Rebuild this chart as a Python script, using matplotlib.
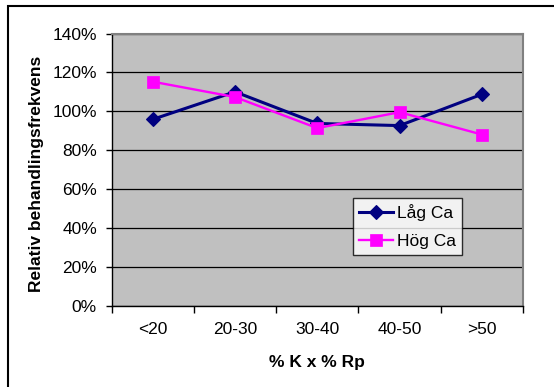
import matplotlib
matplotlib.use("Agg")
import matplotlib.pyplot as plt
from matplotlib.patches import Rectangle
from matplotlib.ticker import FuncFormatter

plt.rcParams['font.family'] = ['Liberation Sans', 'DejaVu Sans']

# Data
categories = ['<20', '20-30', '30-40', '40-50', '>50']
lag_ca = [95.8, 110.0, 93.7, 92.6, 108.7]   # Låg Ca, %
hog_ca = [115.2, 107.3, 91.3, 99.5, 88.0]   # Hög Ca, %
y_ticks = [0, 20, 40, 60, 80, 100, 120, 140]

W, H = 554, 387
fig = plt.figure(figsize=(W / 100, H / 100), dpi=100)

# plot area in pixel coordinates
left, right, top, bottom = 111.5, 523, 33.5, 305.5
ax = fig.add_axes([left / W, 1 - bottom / H, (right - left) / W, (bottom - top) / H])
ax.set_facecolor('#C0C0C0')

x = list(range(len(categories)))
ax.plot(x, lag_ca, color='#000080', lw=2.2, marker='D', ms=7, mew=0.8,
        label='Låg Ca', zorder=3)
ax.plot(x, hog_ca, color='#FF00FF', lw=1.7, marker='s', ms=8.5, mew=0.5,
        label='Hög Ca', zorder=3)

ax.set_xlim(-0.5, len(categories) - 0.5)
ax.set_ylim(0, 140)
ax.set_yticks(y_ticks)
ax.yaxis.set_major_formatter(FuncFormatter(lambda v, p: f'{v:.0f}%'))
ax.grid(axis='y', color='black', lw=0.9)
ax.set_axisbelow(True)

# ticks between categories, labels at category centres
ax.set_xticks([i - 0.5 for i in range(len(categories) + 1)])
ax.set_xticklabels([])
ax.set_xticks(x, minor=True)
ax.set_xticklabels(categories, minor=True)
ax.tick_params(axis='x', which='major', direction='out', length=5, width=1, color='black')
ax.tick_params(axis='x', which='minor', length=0, pad=12, labelsize=12.5)
ax.tick_params(axis='y', direction='out', length=4.5, width=1, pad=6, labelsize=12.5)

for s in ['left', 'bottom']:
    ax.spines[s].set_color('black')
    ax.spines[s].set_linewidth(1)
for s in ['top', 'right']:
    ax.spines[s].set_color('#808080')
    ax.spines[s].set_linewidth(1.5)

fig.text(317 / W, 1 - 363 / H, '% K x % Rp', ha='center', va='center',
         fontsize=12.5, fontweight='bold')
fig.text(37 / W, 1 - 174 / H, 'Relativ behandlingsfrekvens', ha='center', va='center',
         rotation=90, fontsize=12.5, fontweight='bold')

leg = ax.legend(loc='upper left', bbox_to_anchor=(352.7 / W, 1 - 198.3 / H),
                bbox_transform=fig.transFigure, borderaxespad=0, fontsize=12.5,
                fancybox=False, frameon=True, handlelength=2.0, handletextpad=0.2,
                borderpad=0.35, labelspacing=0.7)
leg.get_frame().set_edgecolor('black')
leg.get_frame().set_linewidth(1)
leg.get_frame().set_facecolor('white')

# outer chart border
fig.patches.append(Rectangle((7.5 / W, -0.1), 2, 1.1 - 5.5 / H, transform=fig.transFigure,
                             fill=False, edgecolor='black', lw=1.5))

fig.savefig('out.png', dpi=100)
